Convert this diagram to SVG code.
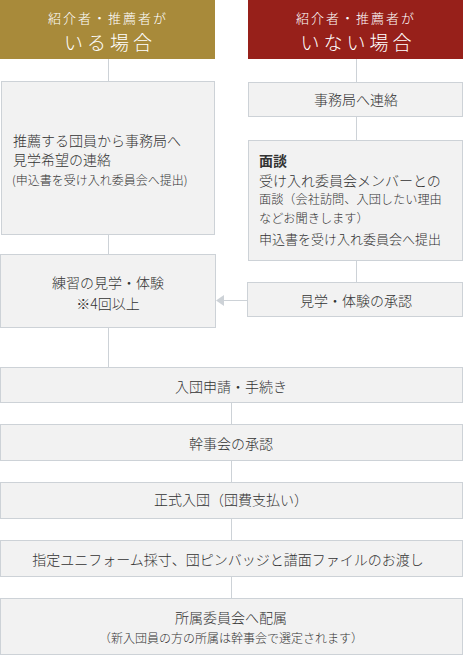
<svg xmlns="http://www.w3.org/2000/svg" width="463" height="655" viewBox="0 0 463 655">
<style>
text{font-family:"Noto Sans CJK JP","Noto Sans",sans-serif;fill:#333;font-weight:300;}
.box{fill:#f2f2f2;stroke:#cdd2d7;stroke-width:1;}
.c{text-anchor:middle;dominant-baseline:central;font-size:14px;}
.l{dominant-baseline:central;font-size:14px;}
.h1{fill:#fff;text-anchor:middle;dominant-baseline:central;font-size:13px;letter-spacing:2px;}
.h2{fill:#fff;text-anchor:middle;dominant-baseline:central;font-size:19px;letter-spacing:4px;}
.line{stroke:#cdd2d7;stroke-width:1;fill:none;}
</style>
<g id="connectors">
<line class="line" x1="108.5" y1="59" x2="108.5" y2="81"/>
<line class="line" x1="108.5" y1="235" x2="108.5" y2="255"/>
<line class="line" x1="108.5" y1="327" x2="108.5" y2="367"/>
<line class="line" x1="356.5" y1="59" x2="356.5" y2="82"/>
<line class="line" x1="356.5" y1="116" x2="356.5" y2="140"/>
<line class="line" x1="356.5" y1="261" x2="356.5" y2="282"/>
<line class="line" x1="248" y1="300.5" x2="224" y2="300.5"/>
<path d="M224,295 L216,300.5 L224,306 Z" fill="#cdd2d7"/>
<line class="line" x1="231.5" y1="402" x2="231.5" y2="424"/>
<line class="line" x1="231.5" y1="460" x2="231.5" y2="482"/>
<line class="line" x1="231.5" y1="518" x2="231.5" y2="540"/>
<line class="line" x1="231.5" y1="576" x2="231.5" y2="598"/>
</g>
<g id="header-left">
<rect x="0" y="0" width="215" height="59" fill="#a88a3a"/>
<text class="h1" x="108" y="17">紹介者・推薦者が</text>
<text class="h2" x="110" y="41">いる場合</text>
</g>
<g id="header-right">
<rect x="248" y="0" width="215" height="59" fill="#97201a"/>
<text class="h1" x="356" y="17">紹介者・推薦者が</text>
<text class="h2" x="358" y="41">いない場合</text>
</g>
<g id="node-suisen">
<rect class="box" x="1.5" y="81.5" width="213" height="153"/>
<text class="l" x="13" y="140">推薦する団員から事務局へ</text>
<text class="l" x="13" y="159">見学希望の連絡</text>
<text class="l" x="12" y="179" style="font-size:12px">(申込書を受け入れ委員会へ提出)</text>
</g>
<g id="node-jimukyoku">
<rect class="box" x="248.5" y="82.5" width="214" height="34"/>
<text class="c" x="356" y="99">事務局へ連絡</text>
</g>
<g id="node-mendan">
<rect class="box" x="248.5" y="140.5" width="214" height="120"/>
<text class="l" x="259" y="160" style="font-weight:bold">面談</text>
<text class="l" x="259" y="180">受け入れ委員会メンバーとの</text>
<text class="l" x="259" y="199" style="font-size:12.2px">面談（会社訪問、入団したい理由</text>
<text class="l" x="259" y="218" style="font-size:12.2px">などお聞きします）</text>
<text class="l" x="259" y="238" style="font-size:13px">申込書を受け入れ委員会へ提出</text>
</g>
<g id="node-renshu">
<rect class="box" x="0.5" y="254.5" width="215" height="73"/>
<text class="c" x="108" y="282">練習の見学・体験</text>
<text class="c" x="108" y="303">※4回以上</text>
</g>
<g id="node-shonin">
<rect class="box" x="247.5" y="282.5" width="215" height="34"/>
<text class="c" x="356" y="300">見学・体験の承認</text>
</g>
<g id="node-nyudan">
<rect class="box" x="0.5" y="367.5" width="462" height="35"/>
<text class="c" x="231" y="386">入団申請・手続き</text>
</g>
<g id="node-kanji">
<rect class="box" x="0.5" y="424.5" width="462" height="36"/>
<text class="c" x="231" y="443">幹事会の承認</text>
</g>
<g id="node-seishiki">
<rect class="box" x="0.5" y="482.5" width="462" height="36"/>
<text class="c" x="231" y="499">正式入団（団費支払い）</text>
</g>
<g id="node-shitei">
<rect class="box" x="0.5" y="540.5" width="462" height="36"/>
<text class="c" x="228" y="559">指定ユニフォーム採寸、団ピンバッジと譜面ファイルのお渡し</text>
</g>
<g id="node-shozoku">
<rect class="box" x="0.5" y="598.5" width="462" height="56"/>
<text class="c" x="231" y="617">所属委員会へ配属</text>
<text class="c" x="231" y="637" style="font-size:12px">（新入団員の方の所属は幹事会で選定されます）</text>
</g>
</svg>
